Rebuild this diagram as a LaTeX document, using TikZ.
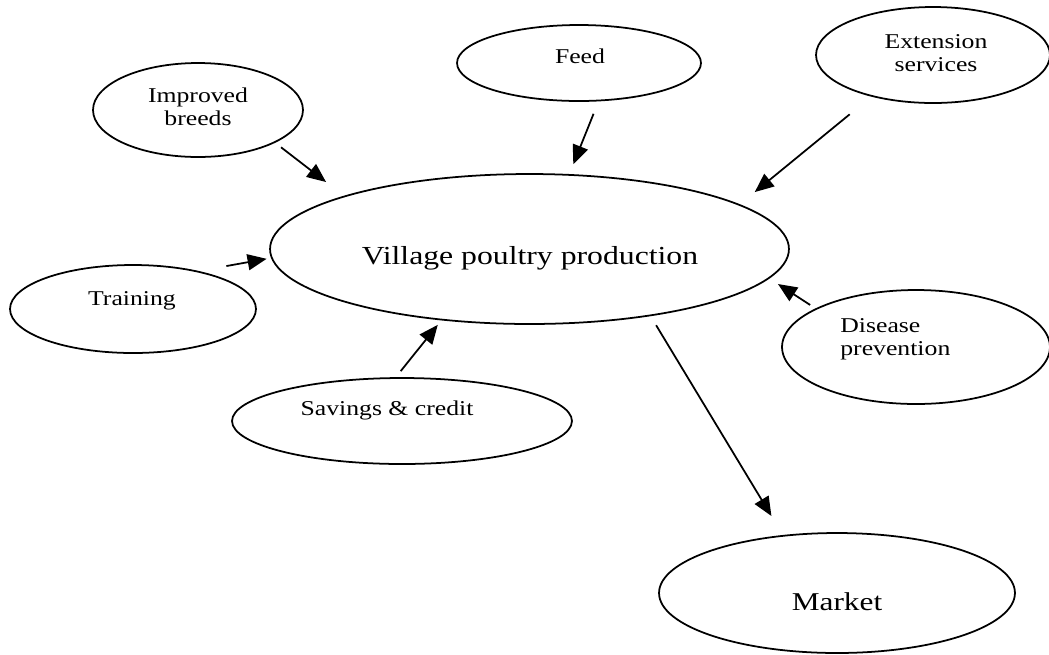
\documentclass[tikz,border=0pt]{standalone}
\usepackage{fontspec}
\setmainfont{Liberation Serif}[FakeStretch=1.22]
\usetikzlibrary{arrows.meta,shapes.geometric}

\begin{document}
\begin{tikzpicture}[x=0.02cm,y=-0.02cm,
  bubble/.style={draw,ellipse,line width=1pt,inner sep=0pt},
  lbl/.style={inner sep=0pt,font=\fontsize{12pt}{13pt}\selectfont},
  arr/.style={-{Triangle[length=0.38cm,width=0.32cm]},line width=1pt}]

  \useasboundingbox (0,0) rectangle (1049,654);

  \node[bubble,minimum width=4.2cm,minimum height=1.88cm] (breeds) at (198,110) {};
  \node[lbl,align=center] (breedstxt) at (198,107) {Improved\\breeds};

  \node[bubble,minimum width=4.88cm,minimum height=1.52cm] (feed) at (579,63) {};
  \node[lbl,anchor=base] (feedtxt) at (580,63) {Feed};

  \node[bubble,minimum width=4.68cm,minimum height=1.92cm] (ext) at (933,55) {};
  \node[lbl,align=center] (exttxt) at (936,53.5) {Extension\\services};

  \node[bubble,minimum width=10.38cm,minimum height=3cm] (village) at (529.5,249) {};
  \node[lbl,anchor=base,font=\fontsize{14.8pt}{16pt}\selectfont] (villagetxt) at (530,264) {Village poultry production};

  \node[bubble,minimum width=4.92cm,minimum height=1.76cm] (training) at (133,309) {};
  \node[lbl,anchor=base] (trainingtxt) at (132,305) {Training};

  \node[bubble,minimum width=5.36cm,minimum height=2.28cm] (disease) at (916,347) {};
  \node[lbl,align=left,anchor=west] (diseasetxt) at (840,339) {Disease\\prevention};

  \node[bubble,minimum width=6.8cm,minimum height=1.72cm] (savings) at (402,421) {};
  \node[lbl,anchor=base] (savingstxt) at (387,415) {Savings \& credit};

  \node[bubble,minimum width=7.12cm,minimum height=2.4cm] (market) at (837,593) {};
  \node[lbl,anchor=base,font=\fontsize{14.6pt}{16pt}\selectfont] (markettxt) at (837,610) {Market};

  % inputs
  \draw[arr,shorten <=0.148cm,shorten >=0.452cm] (breeds.-23) -- (village.164.6);

  \draw[arr,shorten <=0.268cm,shorten >=0.212cm] (feed.-63.2) -- (village.62.6);

  \draw[arr,shorten <=0.558cm,shorten >=0.386cm] (ext.-146.1) -- (village.12.7);

  \draw[arr,shorten <=0.56cm,shorten >=0.09cm] (training.30.2) -- (village.182.3);

  \draw[arr,shorten <=0.128cm,shorten >=0.204cm] (disease.159.4) -- (village.-7.4);

  \draw[arr,shorten <=0.154cm,shorten >=0.114cm] (savings.98.9) -- (village.-141.6);

  % output
  \draw[arr,shorten <=0.212cm,shorten >=0.444cm] (village.-29.8) -- (market.133.6);

\end{tikzpicture}
\end{document}
